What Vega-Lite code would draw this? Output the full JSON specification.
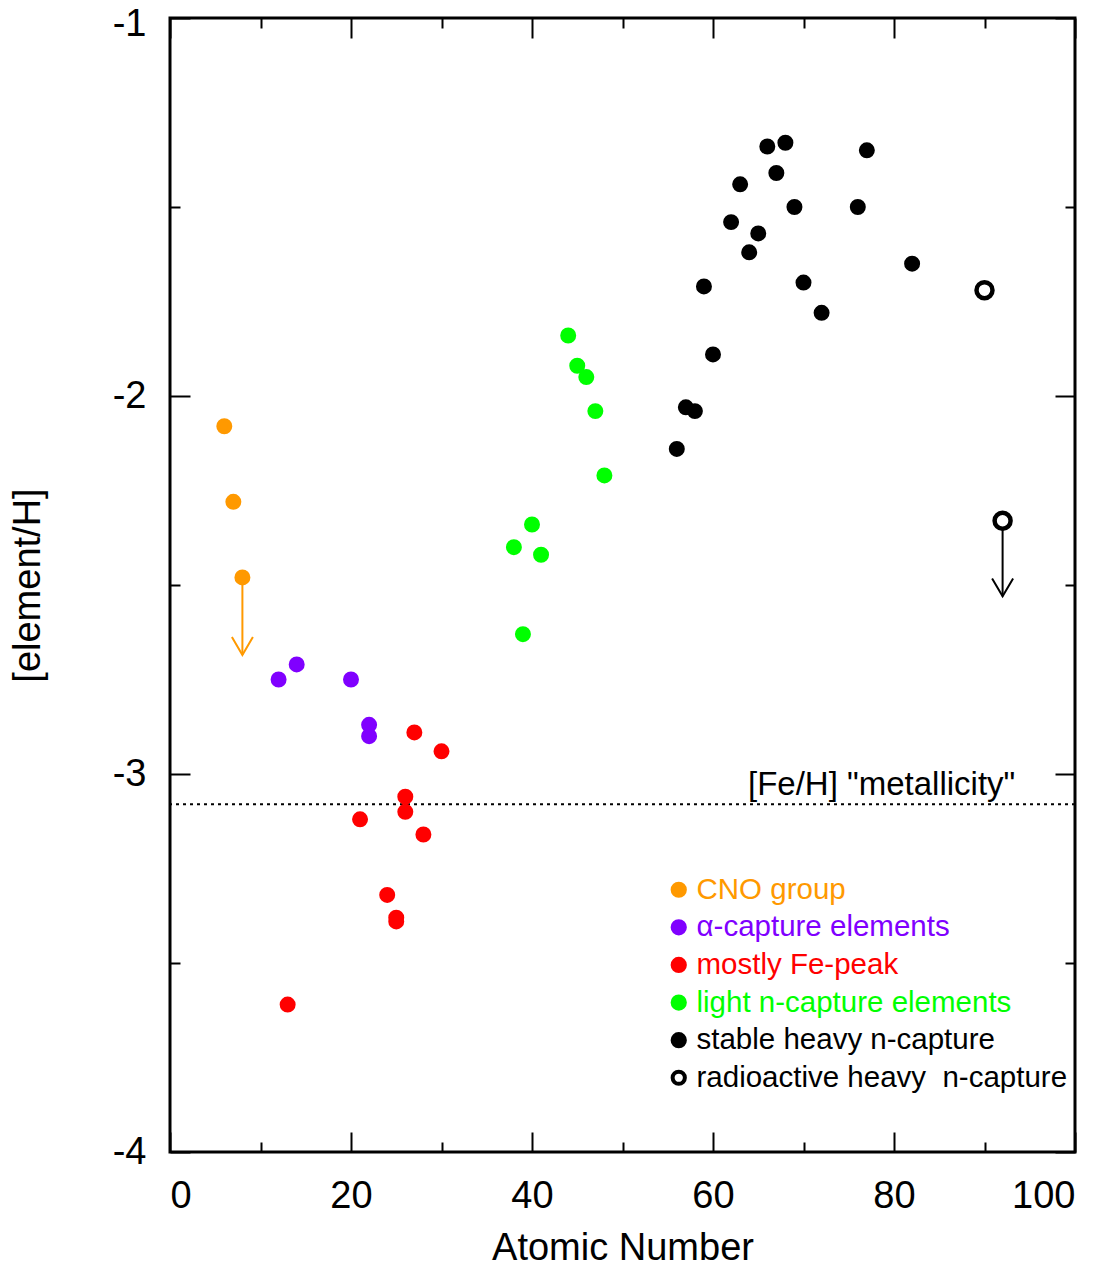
{
  "$schema": "https://vega.github.io/schema/vega-lite/v6.json",
  "width": 905,
  "height": 1134,
  "autosize": {"type": "none"},
  "padding": {"left": 170, "top": 18, "right": 38, "bottom": 116},
  "background": "white",
  "config": {
    "font": "Liberation Sans",
    "view": {"stroke": "black", "strokeWidth": 3},
    "axis": {
      "domain": false, "grid": false, "tickColor": "black", "tickWidth": 2,
      "labelFont": "Liberation Sans", "labelFontSize": 38, "labelColor": "black",
      "titleFont": "Liberation Sans", "titleFontSize": 38, "titleFontWeight": "normal", "titleColor": "black"
    }
  },
  "datasets": {
    "points": [
      {"z": 6, "v": -2.08, "group": "CNO group"},
      {"z": 7, "v": -2.28, "group": "CNO group"},
      {"z": 8, "v": -2.48, "group": "CNO group"},
      {"z": 12, "v": -2.75, "group": "α-capture elements"},
      {"z": 14, "v": -2.71, "group": "α-capture elements"},
      {"z": 20, "v": -2.75, "group": "α-capture elements"},
      {"z": 22, "v": -2.87, "group": "α-capture elements"},
      {"z": 22, "v": -2.90, "group": "α-capture elements"},
      {"z": 13, "v": -3.61, "group": "mostly Fe-peak"},
      {"z": 21, "v": -3.12, "group": "mostly Fe-peak"},
      {"z": 24, "v": -3.32, "group": "mostly Fe-peak"},
      {"z": 25, "v": -3.38, "group": "mostly Fe-peak"},
      {"z": 25, "v": -3.39, "group": "mostly Fe-peak"},
      {"z": 26, "v": -3.06, "group": "mostly Fe-peak"},
      {"z": 26, "v": -3.10, "group": "mostly Fe-peak"},
      {"z": 27, "v": -2.89, "group": "mostly Fe-peak"},
      {"z": 28, "v": -3.16, "group": "mostly Fe-peak"},
      {"z": 30, "v": -2.94, "group": "mostly Fe-peak"},
      {"z": 38, "v": -2.40, "group": "light n-capture elements"},
      {"z": 39, "v": -2.63, "group": "light n-capture elements"},
      {"z": 40, "v": -2.34, "group": "light n-capture elements"},
      {"z": 41, "v": -2.42, "group": "light n-capture elements"},
      {"z": 44, "v": -1.84, "group": "light n-capture elements"},
      {"z": 45, "v": -1.92, "group": "light n-capture elements"},
      {"z": 46, "v": -1.95, "group": "light n-capture elements"},
      {"z": 47, "v": -2.04, "group": "light n-capture elements"},
      {"z": 48, "v": -2.21, "group": "light n-capture elements"},
      {"z": 56, "v": -2.14, "group": "stable heavy n-capture"},
      {"z": 57, "v": -2.03, "group": "stable heavy n-capture"},
      {"z": 58, "v": -2.04, "group": "stable heavy n-capture"},
      {"z": 59, "v": -1.71, "group": "stable heavy n-capture"},
      {"z": 60, "v": -1.89, "group": "stable heavy n-capture"},
      {"z": 62, "v": -1.54, "group": "stable heavy n-capture"},
      {"z": 63, "v": -1.44, "group": "stable heavy n-capture"},
      {"z": 64, "v": -1.62, "group": "stable heavy n-capture"},
      {"z": 65, "v": -1.57, "group": "stable heavy n-capture"},
      {"z": 66, "v": -1.34, "group": "stable heavy n-capture"},
      {"z": 67, "v": -1.41, "group": "stable heavy n-capture"},
      {"z": 68, "v": -1.33, "group": "stable heavy n-capture"},
      {"z": 69, "v": -1.50, "group": "stable heavy n-capture"},
      {"z": 70, "v": -1.70, "group": "stable heavy n-capture"},
      {"z": 72, "v": -1.78, "group": "stable heavy n-capture"},
      {"z": 76, "v": -1.50, "group": "stable heavy n-capture"},
      {"z": 77, "v": -1.35, "group": "stable heavy n-capture"},
      {"z": 82, "v": -1.65, "group": "stable heavy n-capture"},
      {"z": 90, "v": -1.72, "group": "radioactive heavy  n-capture"},
      {"z": 92, "v": -2.33, "group": "radioactive heavy  n-capture"}
    ],
    "arrows": [
      {"z": 8, "v": -2.48, "v2": -2.685, "group": "CNO group"},
      {"z": 92, "v": -2.33, "v2": -2.53, "group": "radioactive heavy  n-capture"}
    ],
    "notes": [
      {"label": "[Fe/H] \"metallicity\"", "xt": 93.4, "y": -3.08}
    ]
  },
  "layer": [
    {
      "data": {"name": "points"},
      "mark": {"type": "point", "opacity": 0},
      "encoding": {
        "x": {"field": "z", "type": "quantitative",
          "scale": {"domain": [0, 100], "nice": false, "zero": false},
          "axis": {"orient": "top", "values": [0,10,20,30,40,50,60,70,80,90,100], "labels": false, "title": null,
            "tickSize": {"condition": {"test": "datum.value % 20 === 0", "value": -20}, "value": -10}}},
        "y": {"field": "v", "type": "quantitative",
          "scale": {"domain": [-4, -1], "nice": false, "zero": false},
          "axis": {"orient": "right", "values": [-4,-3.5,-3,-2.5,-2,-1.5,-1], "labels": false, "title": null,
            "tickSize": {"condition": {"test": "datum.value % 1 === 0", "value": -20}, "value": -10}}}
      }
    },
    {
      "data": {"name": "notes"},
      "mark": {"type": "rule", "color": "black", "strokeWidth": 2, "strokeDash": [3, 4]},
      "encoding": {
        "y": {"field": "y", "type": "quantitative", "axis": null}
      }
    },
    {
      "data": {"name": "notes"},
      "mark": {"type": "text", "align": "right", "baseline": "alphabetic", "dy": -9, "fontSize": 33, "font": "Liberation Sans", "color": "black"},
      "encoding": {
        "x": {"field": "xt", "type": "quantitative", "axis": null},
        "y": {"field": "y", "type": "quantitative", "axis": null},
        "text": {"field": "label"}
      }
    },
    {
      "data": {"name": "arrows"},
      "mark": {"type": "rule", "strokeWidth": 2},
      "encoding": {
        "x": {"field": "z", "type": "quantitative", "axis": null},
        "y": {"field": "v", "type": "quantitative", "axis": null},
        "y2": {"field": "v2"},
        "stroke": {"field": "group", "type": "nominal"}
      }
    },
    {
      "data": {"name": "arrows"},
      "mark": {"type": "point", "shape": "M-1,-1.7L0,0L1,-1.7", "filled": false, "strokeWidth": 2, "size": 441, "opacity": 1},
      "encoding": {
        "x": {"field": "z", "type": "quantitative", "axis": null},
        "y": {"field": "v2", "type": "quantitative", "axis": null},
        "stroke": {"field": "group", "type": "nominal"}
      }
    },
    {
      "data": {"name": "points"},
      "mark": {"type": "point", "shape": "circle", "filled": true, "opacity": 1, "fillOpacity": 1, "strokeOpacity": 1, "strokeWidth": 4.5},
      "encoding": {
        "x": {"field": "z", "type": "quantitative",
          "scale": {"domain": [0, 100], "nice": false, "zero": false},
          "axis": {"orient": "bottom", "values": [0,10,20,30,40,50,60,70,80,90,100], "title": "Atomic Number",
            "labelExpr": "datum.value % 20 === 0 ? datum.label : ''", "labelPadding": 45, "titlePadding": 14,
            "tickSize": {"condition": {"test": "datum.value % 20 === 0", "value": -20}, "value": -10}}},
        "y": {"field": "v", "type": "quantitative",
          "scale": {"domain": [-4, -1], "nice": false, "zero": false},
          "axis": {"orient": "left", "values": [-4,-3.5,-3,-2.5,-2,-1.5,-1], "title": "[element/H]",
            "labelExpr": "datum.value % 1 === 0 ? '' + datum.value : ''", "labelPadding": 44, "titlePadding": 65,
            "labelOffset": {"condition": {"test": "datum.value === -1", "value": 6}, "value": 0},
            "tickSize": {"condition": {"test": "datum.value % 1 === 0", "value": -20}, "value": -10}}},
        "size": {"condition": {"test": "datum.group === 'radioactive heavy  n-capture'", "value": 256}, "value": 132},
        "fill": {"field": "group", "type": "nominal",
          "scale": {"domain": ["CNO group", "α-capture elements", "mostly Fe-peak", "light n-capture elements", "stable heavy n-capture", "radioactive heavy  n-capture"],
            "range": ["#FF9900", "#8000FF", "#FF0000", "#00FF00", "#000000", "#FFFFFF"]},
          "legend": {"title": null, "orient": "none", "legendX": 494, "legendY": 857, "padding": 0,
            "labelFontSize": 29.5, "labelFont": "Liberation Sans", "labelLimit": 600, "labelOffset": 3,
            "rowPadding": 6.6, "symbolStrokeWidth": 4, "symbolType": "circle", "symbolSize": 150,
            "labelExpr": "replace(datum.label, '  ', '\u00a0 ')",
            "encoding": {
              "labels": {"fill": {"condition": [
                {"test": "datum.value === 'CNO group'", "value": "#FF9900"},
                {"test": "datum.value === 'α-capture elements'", "value": "#8000FF"},
                {"test": "datum.value === 'mostly Fe-peak'", "value": "#FF0000"},
                {"test": "datum.value === 'light n-capture elements'", "value": "#00FF00"}
              ], "value": "#000000"}}
            }}},
        "stroke": {"field": "group", "type": "nominal",
          "scale": {"domain": ["CNO group", "α-capture elements", "mostly Fe-peak", "light n-capture elements", "stable heavy n-capture", "radioactive heavy  n-capture"],
            "range": ["#FF9900", "#8000FF", "#FF0000", "#00FF00", "#000000", "#000000"]},
          "legend": {"title": null, "orient": "none", "legendX": 494, "legendY": 857, "padding": 0,
            "labelFontSize": 29.5, "labelFont": "Liberation Sans", "labelLimit": 600, "labelOffset": 3,
            "rowPadding": 6.6, "symbolStrokeWidth": 4, "symbolType": "circle", "symbolSize": 150,
            "labelExpr": "replace(datum.label, '  ', '\u00a0 ')",
            "encoding": {
              "labels": {"fill": {"condition": [
                {"test": "datum.value === 'CNO group'", "value": "#FF9900"},
                {"test": "datum.value === 'α-capture elements'", "value": "#8000FF"},
                {"test": "datum.value === 'mostly Fe-peak'", "value": "#FF0000"},
                {"test": "datum.value === 'light n-capture elements'", "value": "#00FF00"}
              ], "value": "#000000"}}
            }}}
      }
    }
  ],
  "resolve": {"axis": {"x": "independent", "y": "independent"}}
}
